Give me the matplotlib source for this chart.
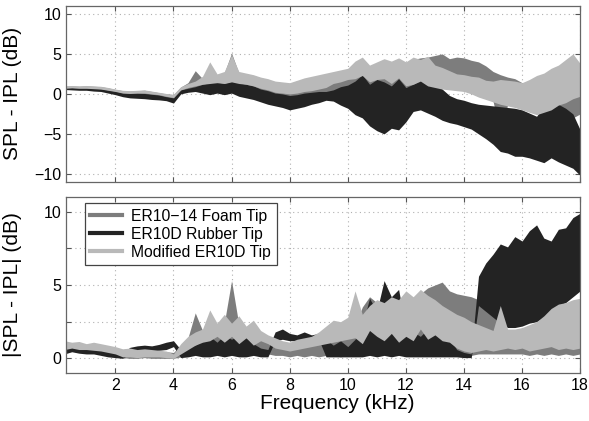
import numpy as np
import matplotlib
matplotlib.use("Agg")
import matplotlib.pyplot as plt
from matplotlib.lines import Line2D

plt.rcParams['font.family'] = ['Liberation Sans', 'DejaVu Sans']

# frequency grid (kHz), one value every 0.25 kHz
freq_khz = np.arange(0.25, 18.01, 0.25)

# ---- top panel: SPL - IPL (dB), band limits ----
top_mod_hi = [1.0, 1.05, 1.0, 1.05, 1.0, 0.95, 0.8, 0.6, 0.45, 0.4, 0.45, 0.5,
              0.35, 0.2, 0.05, -0.05, 0.9, 1.3, 1.6, 2.2, 4.0, 2.5, 2.8, 4.9,
              2.8, 2.6, 2.4, 2.1, 1.9, 1.6, 1.5, 1.4, 1.7, 2.0, 2.2, 2.4,
              2.6, 2.8, 3.0, 3.2, 4.1, 4.6, 3.6, 4.0, 4.4, 4.1, 4.5, 4.0,
              4.6, 4.3, 4.7, 3.6, 3.3, 2.9, 2.5, 2.4, 2.2, 2.1, 1.7, 1.6,
              1.8, 1.7, 1.6, 1.4, 1.8, 2.3, 2.6, 3.2, 3.6, 4.3, 5.0, 3.8]
top_mod_lo = [0.7, 0.75, 0.7, 0.7, 0.65, 0.6, 0.45, 0.3, 0.1, 0.05, 0.1, 0.1,
              0.0, -0.1, -0.3, -0.45, 0.5, 0.8, 1.0, 1.2, 1.3, 1.4, 1.3, 1.5,
              1.3, 1.2, 1.0, 0.7, 0.5, 0.2, 0.1, 0.0, 0.1, 0.3, 0.4, 0.6,
              0.8, 1.3, 1.5, 1.8, 1.9, 2.3, 1.5, 1.8, 1.9, 1.3, 2.0, 1.0,
              1.2, 1.6, 1.0, 0.8, 0.6, 0.5, 0.4, 0.3, 0.0, -0.4, -0.7, -1.0,
              -1.3, -1.5, -1.7, -2.0, -2.3, -2.6, -2.3, -2.0, -1.4, -1.1, -0.6, -0.3]
top_foam_hi = [0.95, 1.0, 0.95, 1.0, 0.95, 0.9, 0.75, 0.55, 0.4, 0.35, 0.4, 0.45,
               0.3, 0.15, 0.0, -0.1, 0.85, 1.4, 2.9, 1.9, 2.3, 2.4, 2.6, 5.1,
               2.6, 2.5, 2.3, 2.0, 1.8, 1.5, 1.4, 1.3, 1.6, 1.8, 2.0, 2.1,
               2.3, 2.6, 2.7, 2.9, 3.2, 3.5, 3.3, 3.6, 4.0, 3.8, 4.2, 3.9,
               4.3, 4.5, 4.6, 4.8, 5.0, 4.4, 4.6, 4.5, 4.2, 4.0, 3.5, 2.8,
               2.4, 2.1, 1.9, 1.4, 1.5, 1.9, 2.3, 2.7, 3.0, 3.8, 3.0, 1.6]
top_foam_lo = [0.6, 0.6, 0.55, 0.55, 0.5, 0.45, 0.3, 0.1, -0.05, -0.1, -0.1, -0.1,
               -0.2, -0.3, -0.45, -0.6, 0.35, 0.6, 0.8, 1.0, 1.1, 1.0, 1.0, 1.2,
               1.0, 0.9, 0.8, 0.5, 0.2, 0.0, -0.2, -0.3, -0.2, -0.1, 0.0, 0.2,
               0.2, 0.3, 0.5, 0.8, 1.0, 1.1, 0.8, 1.2, 1.3, 0.9, 1.3, 0.8,
               0.9, 1.2, 0.7, 0.6, 0.7, 0.6, 0.5, 0.4, 0.1, -0.3, -0.6, -0.9,
               -5.0, -1.4, -1.6, -1.9, -2.1, -2.4, -2.2, -2.3, -2.5, -2.8, -3.0, -2.5]
top_rub_hi = [0.75, 0.8, 0.75, 0.75, 0.7, 0.65, 0.5, 0.35, 0.15, 0.1, 0.1, 0.05,
              -0.05, -0.15, -0.35, -0.5, 0.5, 0.7, 0.9, 1.2, 1.4, 1.5, 1.3, 1.6,
              1.4, 1.2, 1.0, 0.6, 0.4, 0.1, 0.0, -0.2, -0.1, 0.1, 0.2, 0.3,
              0.3, 0.5, 0.9, 1.1, 1.6, 2.4, 1.2, 1.8, 1.5, 1.0, 1.9, 0.8,
              1.2, 1.7, 1.4, 2.0, 0.6, -0.2, -0.6, -0.8, -1.1, -1.3, -1.4, -1.5,
              -1.6, -1.7, -1.8, -2.0, -2.4, -2.8, -1.5, -0.7, -1.3, -1.8, -2.5, -4.5]
top_rub_lo = [0.55, 0.5, 0.45, 0.45, 0.35, 0.3, 0.1, -0.1, -0.35, -0.5, -0.55, -0.6,
              -0.7, -0.75, -0.85, -1.15, 0.0, 0.2, 0.3, 0.1, -0.1, 0.1, -0.1, 0.1,
              -0.3, -0.5, -0.7, -1.0, -1.3, -1.5, -1.7, -2.0, -1.8, -1.6, -1.3, -1.1,
              -0.8, -0.9, -1.4, -1.8, -2.6, -3.0, -4.0, -4.6, -5.0, -4.3, -4.5, -3.5,
              -2.2, -2.0, -2.4, -2.8, -3.3, -3.6, -3.8, -4.1, -4.4, -5.0, -5.6, -6.3,
              -7.2, -7.4, -7.8, -7.8, -8.0, -8.3, -8.6, -8.0, -8.5, -8.9, -9.3, -10.2]

# ---- bottom panel: |SPL - IPL| (dB) ----
abs_mod_hi = [1.2, 1.1, 1.15, 1.0, 1.1, 1.0, 0.9, 0.8, 0.65, 0.7, 0.6, 0.65,
              0.6, 0.55, 0.5, 0.3, 1.0, 1.5, 1.8, 2.0, 3.3, 2.4, 3.0, 2.4,
              2.9, 2.2, 2.6, 1.9, 1.6, 1.4, 1.2, 1.1, 1.3, 1.4, 1.5, 1.8,
              2.2, 2.6, 2.5, 2.8, 4.6, 3.0, 3.6, 4.0, 3.8, 4.2, 4.0, 4.6,
              4.2, 4.7, 4.3, 4.0, 3.6, 3.3, 3.0, 2.8, 2.5, 2.3, 2.1, 1.9,
              3.6, 2.0, 2.0, 2.1, 2.3, 2.5, 2.9, 3.4, 3.7, 3.8, 4.0, 4.1]
abs_mod_lo = [0.6, 0.7, 0.6, 0.6, 0.55, 0.5, 0.4, 0.3, 0.1, 0.1, 0.05, 0.1,
              0.1, 0.1, 0.05, 0.0, 0.3, 0.6, 0.9, 1.1, 1.2, 1.5, 1.1, 1.5,
              1.0, 1.4, 0.9, 1.2, 1.0, 0.7, 0.6, 0.5, 0.6, 0.7, 0.8, 0.9,
              1.0, 1.1, 1.2, 1.3, 1.4, 1.0, 1.9, 1.5, 1.2, 1.7, 1.1, 1.5,
              1.2, 2.0, 1.3, 1.6, 1.2, 1.1, 0.7, 0.5, 0.4, 0.5, 0.6, 0.5,
              0.6, 0.7, 0.6, 0.7, 0.5, 0.6, 0.7, 0.8, 0.6, 0.7, 0.6, 0.7]
abs_foam_hi = [1.1, 1.0, 1.05, 0.95, 1.0, 0.9, 0.8, 0.7, 0.6, 0.65, 0.55, 0.6,
               0.55, 0.5, 0.45, 0.4, 0.9, 1.4, 3.1, 1.9, 2.2, 2.3, 2.4, 5.3,
               2.3, 2.1, 1.9, 1.8, 1.5, 1.3, 1.1, 1.0, 1.2, 1.3, 1.4, 1.5,
               1.7, 2.0, 2.3, 2.6, 2.2, 3.5, 4.2, 3.8, 3.6, 4.0, 3.8, 4.2,
               3.9, 4.4, 4.8, 5.0, 5.2, 4.6, 4.4, 4.3, 4.2, 4.0, 3.8, 3.0,
               2.4, 1.9, 1.6, 1.4, 1.3, 1.4, 1.5, 1.6, 1.8, 2.0, 2.2, 2.0]
abs_foam_lo = [0.4, 0.5, 0.4, 0.4, 0.35, 0.3, 0.2, 0.15, 0.05, 0.0, 0.0, 0.05,
               0.0, 0.0, 0.0, 0.0, 0.1, 0.3, 0.5, 0.4, 0.3, 0.2, 0.3, 0.4,
               0.3, 0.2, 0.3, 0.2, 0.3, 0.2, 0.2, 0.1, 0.2, 0.1, 0.2, 0.1,
               0.2, 0.2, 0.1, 0.2, 0.3, 0.5, 0.3, 0.4, 0.3, 0.2, 0.4, 0.3,
               0.2, 0.4, 0.2, 0.3, 0.2, 0.4, 0.2, 0.3, 0.2, 0.3, 0.3, 0.3,
               0.3, 0.3, 0.3, 0.3, 0.2, 0.3, 0.2, 0.3, 0.2, 0.3, 0.2, 0.3]
abs_rub_hi = [0.8, 0.85, 0.8, 0.75, 0.8, 0.7, 0.55, 0.45, 0.35, 0.75, 0.85, 0.9,
              0.85, 0.95, 1.1, 1.2, 0.6, 0.8, 0.9, 1.2, 1.5, 1.1, 1.6, 1.3,
              1.6, 1.4, 1.0, 0.7, 0.6, 1.8, 2.0, 1.7, 1.6, 1.8, 1.6, 1.7,
              1.3, 0.9, 1.2, 0.8, 1.3, 2.2, 4.1, 3.2, 5.3, 4.2, 4.7, 2.0,
              1.8, 1.5, 2.0, 1.8, 1.9, 1.4, 0.6, 0.4, 0.3, 5.6, 6.5, 7.1,
              7.8, 7.6, 8.3, 8.0, 8.7, 9.1, 8.2, 8.0, 8.8, 8.9, 9.6, 9.9]
abs_rub_lo = [0.3, 0.45, 0.35, 0.3, 0.3, 0.2, 0.1, 0.05, 0.0, 0.3, 0.45, 0.4,
              0.5, 0.55, 0.6, 0.8, 0.05, 0.1, 0.2, 0.1, 0.1, 0.2, 0.1, 0.2,
              0.1, 0.1, 0.2, 0.1, 0.1, 1.2, 1.3, 1.2, 1.2, 1.3, 1.1, 1.3,
              0.1, 0.1, 0.1, 0.1, 0.1, 0.1, 0.2, 0.1, 0.2, 0.1, 0.2, 0.1,
              0.1, 0.1, 0.1, 0.1, 0.1, 0.1, 0.1, 0.05, 0.05, 3.6, 3.2, 2.8,
              2.4, 2.1, 2.1, 2.2, 2.4, 2.5, 2.8, 3.2, 3.6, 3.8, 4.2, 4.6]

etiquetas = ['ER10\u221214 Foam Tip', 'ER10D Rubber Tip', 'Modified ER10D Tip']
colores = ['#7d7d7d', '#232323', '#b9b9b9']


def dibujar_bandas(ax, bandas):
    # order matters: foam first, rubber on top of it, modified tip last
    for (lo, hi), color in zip(bandas, colores):
        ax.fill_between(freq_khz, lo, hi, color=color, linewidth=0)


def estilo_ejes(ax):
    ax.set_xlim(0.3, 18)
    ax.set_xticks(range(2, 19, 2))
    ax.grid(True, linestyle=(0, (1, 3)), color='#b0b0b0', linewidth=0.8)
    ax.set_axisbelow(True)
    ax.tick_params(direction='in', top=True, right=True, length=3.5,
                   labelsize=11.5, color='#555555')
    for s in ax.spines.values():
        s.set_color('#666666')
        s.set_linewidth(0.9)


fig = plt.figure(figsize=(5.89, 4.21), dpi=100)
ax1 = fig.add_axes([0.112, 0.568, 0.873, 0.418])
ax2 = fig.add_axes([0.112, 0.114, 0.873, 0.418])

dibujar_bandas(ax1, [(top_foam_lo, top_foam_hi), (top_rub_lo, top_rub_hi),
                     (top_mod_lo, top_mod_hi)])
estilo_ejes(ax1)
ax1.set_ylim(-11, 11)
ax1.set_yticks([-10, -5, 0, 5, 10])
ax1.set_yticklabels(['\u221210', '\u22125', '0', '5', '10'])
ax1.set_xticklabels([])
ax1.set_ylabel('SPL - IPL (dB)', fontsize=15)
ax1.yaxis.set_label_coords(-0.085, 0.5)

dibujar_bandas(ax2, [(abs_foam_lo, abs_foam_hi), (abs_rub_lo, abs_rub_hi),
                     (abs_mod_lo, abs_mod_hi)])
estilo_ejes(ax2)
ax2.set_ylim(-1, 11)
ax2.set_yticks([0, 2.5, 5, 7.5, 10])
ax2.set_yticklabels(['0', '', '5', '', '10'])
ax2.set_ylabel('|SPL - IPL| (dB)', fontsize=15)
ax2.yaxis.set_label_coords(-0.085, 0.5)
ax2.set_xlabel('Frequency (kHz)', fontsize=15)
ax2.xaxis.set_label_coords(0.527, -0.118)

handles = [Line2D([], [], color=c, linewidth=3) for c in colores]
leg = ax2.legend(handles, etiquetas, loc='upper left', bbox_to_anchor=(0.037, 0.966),
                 borderaxespad=0, fancybox=False, framealpha=1, edgecolor='#444444',
                 fontsize=11.3, handlelength=2.0, handletextpad=0.6, labelspacing=0.2,
                 borderpad=0.35)
leg.get_frame().set_linewidth(0.9)

fig.savefig('out.png', dpi=100)
